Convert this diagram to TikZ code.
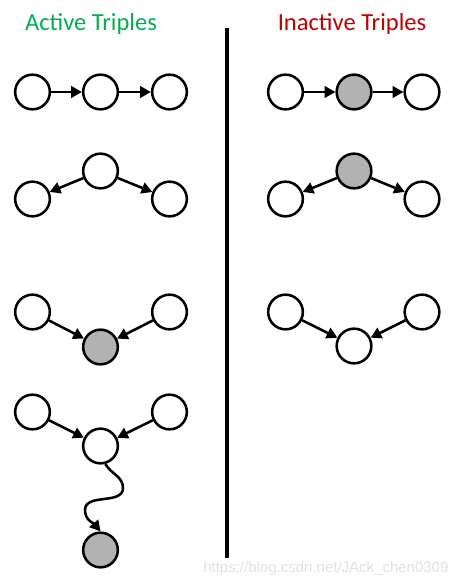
\documentclass[tikz,border=0pt]{standalone}
\usepackage{fontspec}
\setmainfont{Carlito}
\newfontfamily\wmfont{Liberation Sans}
\usetikzlibrary{arrows.meta}
\definecolor{actgreen}{RGB}{0,176,80}
\definecolor{inactred}{RGB}{192,0,0}
\definecolor{obsgray}{RGB}{178,178,178}
\definecolor{wmgray}{RGB}{225,225,225}
\tikzset{
  var/.style={circle,draw=black,line width=1.9pt,fill=white,minimum size=26pt,inner sep=0pt},
  obs/.style={var,fill=obsgray},
  arr/.style={line width=1.9pt,-{Triangle[length=8pt,width=8.5pt]}},
  title/.style={anchor=base,font=\fontsize{18.4}{22}\selectfont},
}
\begin{document}
\begin{tikzpicture}[x=0.75pt,y=0.75pt]
\useasboundingbox (0,0) rectangle (472,-584);
% titles
\node[title,text=actgreen] (tA) at (91,-31) {Active Triples};
\node[title,text=inactred] (tI) at (352,-31) {Inactive Triples};
% divider
\coordinate (dtop) at (227,-28);
\coordinate (dbot) at (227,-558);
\draw[line width=3pt] (dtop) -- (dbot);
% ---- Active ----
\node[var] (a1) at (32.5,-92) {};
\node[var] (b1) at (100.5,-92) {};
\node[var] (c1) at (169.5,-92) {};
\draw[arr] (a1) -- (b1);
\draw[arr] (b1) -- (c1);
\node[var] (a2) at (32.5,-199) {};
\node[var] (b2) at (100.5,-171) {};
\node[var] (c2) at (169.5,-199) {};
\draw[arr] (b2) -- (a2);
\draw[arr] (b2) -- (c2);
\node[var] (a3) at (32.5,-312) {};
\node[obs] (b3) at (100.5,-347) {};
\node[var] (c3) at (169.5,-312) {};
\draw[arr] (a3) -- (b3);
\draw[arr] (c3) -- (b3);
\node[var] (a4) at (32.5,-412) {};
\node[var] (b4) at (100.5,-446) {};
\node[var] (c4) at (169.5,-412) {};
\node[obs] (d4) at (100.5,-550) {};
\draw[arr] (a4) -- (b4);
\draw[arr] (c4) -- (b4);
\coordinate (w1) at (123,-488);
\coordinate (w2) at (85,-510);
\draw[arr] (b4.-75) to[out=-60,in=90] (w1) to[out=-90,in=90] (w2) to[out=-90,in=130] (d4.north);
% ---- Inactive ----
\node[var] (e1) at (285.5,-92) {};
\node[obs] (f1) at (354,-92) {};
\node[var] (g1) at (422,-92) {};
\draw[arr] (e1) -- (f1);
\draw[arr] (f1) -- (g1);
\node[var] (e2) at (285.5,-199) {};
\node[obs] (f2) at (354,-171) {};
\node[var] (g2) at (422,-199) {};
\draw[arr] (f2) -- (e2);
\draw[arr] (f2) -- (g2);
\node[var] (e3) at (285.5,-312) {};
\node[var] (f3) at (354,-346) {};
\node[var] (g3) at (422,-312) {};
\draw[arr] (e3) -- (f3);
\draw[arr] (g3) -- (f3);
% watermark
\node[anchor=base west,inner sep=0pt,text=wmgray,font=\wmfont\fontsize{11.25}{13}\selectfont] (wm) at (203,-572) {https://blog.csdn.net/JAck\_chen0309};
\end{tikzpicture}
\end{document}
